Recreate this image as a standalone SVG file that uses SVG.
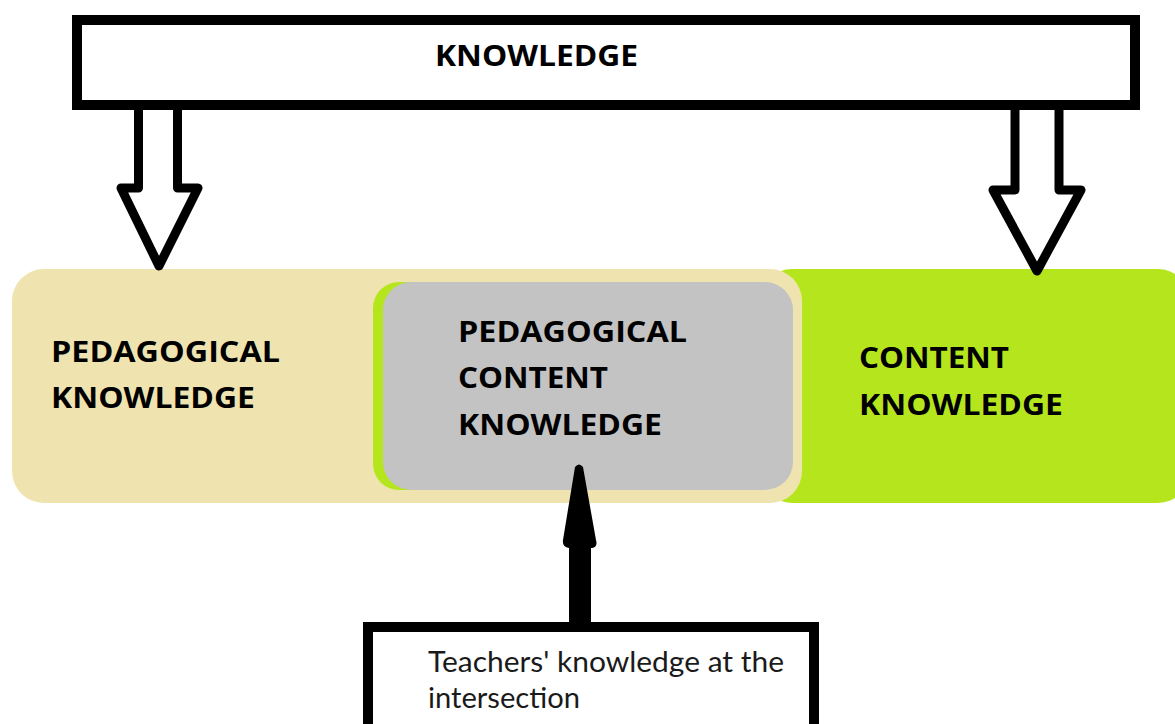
<svg xmlns="http://www.w3.org/2000/svg" width="1175" height="724" viewBox="0 0 1175 724">
<style>
  .lbl { font-family: "Open Sans", "Liberation Sans", sans-serif; font-weight: bold; font-size: 29px; fill: #000; }
  .note { font-family: Lato, "Open Sans", "Liberation Sans", sans-serif; font-size: 29px; fill: #1a1a1a; }
  .box { fill: #fff; stroke: #000; stroke-width: 10; }
  .hollow { fill: #fff; stroke: #000; stroke-width: 9; stroke-linejoin: round; }
</style>
<rect width="1175" height="724" fill="#fff"/>
<g id="band">
  <rect id="content-bg" x="760" y="269" width="430" height="234" rx="32" fill="#B5E61D"/>
  <rect id="pedagogical-bg" x="12" y="269" width="790" height="234" rx="32" fill="#EFE4B0"/>
</g>
<g id="pedagogical">
  <text class="lbl" x="51" y="362" textLength="229" lengthAdjust="spacingAndGlyphs">PEDAGOGICAL</text>
  <text class="lbl" x="51" y="408" textLength="204" lengthAdjust="spacingAndGlyphs">KNOWLEDGE</text>
</g>
<g id="content">
  <text class="lbl" x="859" y="368" textLength="150" lengthAdjust="spacingAndGlyphs">CONTENT</text>
  <text class="lbl" x="859" y="415" textLength="204" lengthAdjust="spacingAndGlyphs">KNOWLEDGE</text>
</g>
<g id="pck">
  <rect x="373" y="282" width="400" height="208" rx="26" fill="#B5E61D"/>
  <rect x="383" y="282" width="410" height="208" rx="28" fill="#C3C3C3"/>
  <text class="lbl" x="458" y="342" textLength="229" lengthAdjust="spacingAndGlyphs">PEDAGOGICAL</text>
  <text class="lbl" x="458" y="388" textLength="150" lengthAdjust="spacingAndGlyphs">CONTENT</text>
  <text class="lbl" x="458" y="435" textLength="204" lengthAdjust="spacingAndGlyphs">KNOWLEDGE</text>
</g>
<g id="connectors">
  <path class="hollow" d="M138.5,105 L138.5,188 L121,188 L159,266 L198,188 L177.5,188 L177.5,105"/>
  <path class="hollow" d="M1015,105 L1015,190 L993,190 L1037,271 L1081,190 L1059,190 L1059,105"/>
  <path d="M575,467 Q579,462 583,467 L596,540 Q598,547 592,548 L591,548 L591,625 L569,625 L569,548 Q562,547 563,540 Z" fill="#000"/>
</g>
<g id="knowledge">
  <rect class="box" x="77" y="20" width="1058" height="85"/>
  <text class="lbl" x="435" y="66" textLength="203" lengthAdjust="spacingAndGlyphs">KNOWLEDGE</text>
</g>
<g id="teachers">
  <rect class="box" x="368" y="627" width="446" height="110"/>
  <text class="note" x="428" y="672" textLength="356" lengthAdjust="spacingAndGlyphs">Teachers' knowledge at the</text>
  <text class="note" x="428" y="708" textLength="152" lengthAdjust="spacingAndGlyphs">intersection</text>
</g>
</svg>
